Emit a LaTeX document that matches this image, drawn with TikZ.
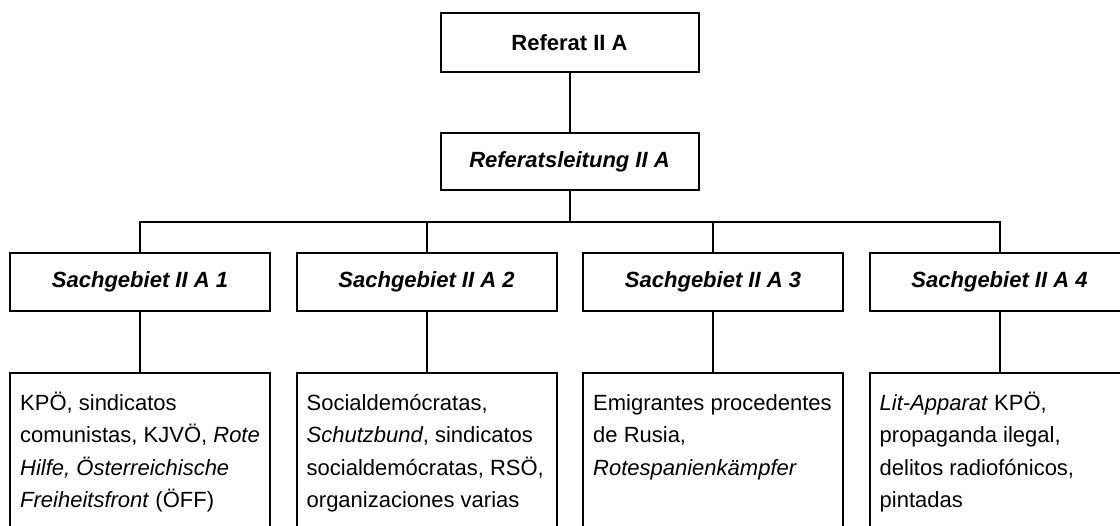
\documentclass[tikz,border=0pt]{standalone}
\usepackage{fontspec}
\setmainfont{Liberation Sans}
\begin{document}
\begin{tikzpicture}[x=1pt,y=-1pt,
  box/.style={draw=black, line width=2pt, rectangle, minimum width=258pt, inner sep=0pt, font=\fontsize{22}{26}\selectfont\bfseries},
  sbox/.style={draw=black, line width=2pt, rectangle, minimum width=260pt, minimum height=58pt, inner sep=0pt, font=\fontsize{22}{26}\selectfont\bfseries\itshape},
  tbox/.style={draw=black, line width=2pt, rectangle, minimum width=260pt, minimum height=240pt, inner sep=0pt, anchor=north},
  txt/.style={anchor=north west, inner sep=0pt, align=left, font=\fontsize{22}{32.5}\selectfont},
  conn/.style={draw=black, line width=2pt}
]
\useasboundingbox (0,0) rectangle (1120,526);
\clip (0,0) rectangle (1120,526);
\newcommand{\fl}{\rule{0pt}{20pt}}
% top levels
\node[box, minimum height=59pt] (top) at (569.5,42.5) {Referat II A};
\node[box, minimum height=57pt, font=\fontsize{22}{26}\selectfont\bfseries\itshape] (lead) at (569.5,161.5) {Referatsleitung II A};
% Sachgebiete
\node[sbox] (s1) at (140,282) {Sachgebiet II A 1};
\node[sbox] (s2) at (426.5,282) {Sachgebiet II A 2};
\node[sbox] (s3) at (713,282) {Sachgebiet II A 3};
\node[sbox] (s4) at (999.5,282) {Sachgebiet II A 4};
% bottom boxes
\node[tbox] (b1) at (140,372) {};
\node[tbox] (b2) at (426.5,372) {};
\node[tbox] (b3) at (713,372) {};
\node[tbox] (b4) at (999.5,372) {};
\node[txt] (t1) at ([xshift=11pt,yshift=-18pt]b1.north west) {\fl KPÖ, sindicatos\\comunistas, KJVÖ, \textit{Rote}\\\textit{Hilfe, Österreichische}\\\textit{Freiheitsfront} (ÖFF)};
\node[txt] (t2) at ([xshift=11pt,yshift=-18pt]b2.north west) {\fl Socialdemócratas,\\\textit{Schutzbund}, sindicatos\\socialdemócratas, RSÖ,\\organizaciones varias};
\node[txt] (t3) at ([xshift=11pt,yshift=-18pt]b3.north west) {\fl Emigrantes procedentes\\de Rusia,\\\textit{Rotespanienkämpfer}};
\node[txt] (t4) at ([xshift=11pt,yshift=-18pt]b4.north west) {\fl \textit{Lit-Apparat} KPÖ,\\propaganda ilegal,\\delitos radiofónicos,\\pintadas};
% connectors
\coordinate (j) at (569.5,222);
\draw[conn] (top.south) -- (lead.north);
\draw[conn] (lead.south) -- (j);
\draw[conn] (s1.north) |- (j) -| (s4.north);
\draw[conn] (s2.north) -- (s2.north |- j);
\draw[conn] (s3.north) -- (s3.north |- j);
\draw[conn] (s1.south) -- (b1.north);
\draw[conn] (s2.south) -- (b2.north);
\draw[conn] (s3.south) -- (b3.north);
\draw[conn] (s4.south) -- (b4.north);
\end{tikzpicture}
\end{document}
